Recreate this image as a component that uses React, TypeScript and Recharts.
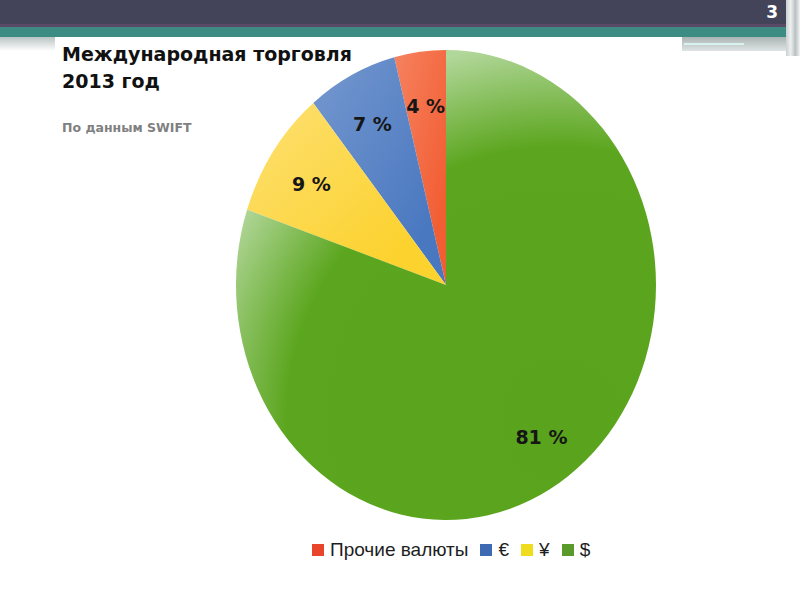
import { PieChart, Pie, Cell, Legend } from "recharts";

const currencies = ["Прочие валюты", "€", "¥", "$"];
const shares = [4, 7, 9, 81];
const shareLabels = ["4 %", "7 %", "9 %", "81 %"];

// light -> dark for each small slice gradient
const sliceLight = ["#f6825f", "#7598cf", "#fde072", "#b2d79a"];
const sliceDark = ["#f25e34", "#4a78c0", "#fcd22e", "#5aa41d"];
const legendColors = ["#e8452a", "#3e6ab3", "#f0dc1e", "#5a9a2a"];

const data = currencies.map((name, i) => ({ name, value: shares[i] }));

const ASPECT = 210 / 235; // the pie in the slide is a tall ellipse
const RAD = Math.PI / 180;

function EllipseSlice(props: any) {
  const { cx, cy, outerRadius, startAngle, endAngle, fill } = props;
  const ry = outerRadius;
  const rx = outerRadius * ASPECT;
  const x1 = cx + rx * Math.cos(-startAngle * RAD);
  const y1 = cy + ry * Math.sin(-startAngle * RAD);
  const x2 = cx + rx * Math.cos(-endAngle * RAD);
  const y2 = cy + ry * Math.sin(-endAngle * RAD);
  const large = Math.abs(endAngle - startAngle) > 180 ? 1 : 0;
  const sweep = startAngle > endAngle ? 1 : 0;
  const d = `M${cx},${cy} L${x1},${y1} A${rx},${ry} 0 ${large} ${sweep} ${x2},${y2} Z`;
  return <path d={d} fill={fill} stroke="none" />;
}

function renderLabel(props: any) {
  const { cx, cy, midAngle, outerRadius, index } = props;
  const k = 0.78;
  const x = cx + outerRadius * ASPECT * k * Math.cos(-midAngle * RAD);
  const y = cy + outerRadius * k * Math.sin(-midAngle * RAD) + 3;
  return (
    <text
      x={x}
      y={y}
      textAnchor="middle"
      dominantBaseline="central"
      fontFamily="DejaVu Sans"
      fontWeight="bold"
      fontSize={19}
      fill="#161616"
    >
      {shareLabels[index]}
    </text>
  );
}

function renderLegend() {
  return (
    <div
      style={{
        display: "flex",
        alignItems: "center",
        gap: 12,
        fontFamily: "Liberation Sans, Arial, sans-serif",
        fontSize: 19,
        color: "#1e1e1e",
        paddingLeft: 312,
      }}
    >
      {currencies.map((name, i) => (
        <div key={name} style={{ display: "flex", alignItems: "center" }}>
          <span
            style={{
              display: "inline-block",
              width: 12,
              height: 12,
              background: legendColors[i],
              marginRight: 6,
            }}
          />
          <span>{name}</span>
        </div>
      ))}
    </div>
  );
}

export default function App() {
  return (
    <div
      style={{
        position: "absolute",
        left: 0,
        top: 0,
        width: 800,
        height: 600,
        background: "#ffffff",
        overflow: "hidden",
      }}
    >
      {/* slide header */}
      <div style={{ position: "absolute", left: 0, top: 0, width: 800, height: 24, background: "#43435a" }} />
      <div style={{ position: "absolute", left: 0, top: 24, width: 800, height: 3, background: "#5a4a68" }} />
      <div style={{ position: "absolute", left: 0, top: 27, width: 800, height: 10, background: "#3d8c84" }} />
      <div
        style={{
          position: "absolute",
          left: 0,
          top: 37,
          width: 800,
          height: 14,
          background: "linear-gradient(#b9c4c2, #ffffff)",
        }}
      />
      <div style={{ position: "absolute", left: 682, top: 37, width: 105, height: 14, background: "linear-gradient(#aab5b4, #dfe3e3)" }} />
      <div style={{ position: "absolute", left: 684, top: 43, width: 60, height: 2, background: "#d8f2f2" }} />
      <div style={{ position: "absolute", left: 786, top: 0, width: 14, height: 56, background: "linear-gradient(90deg, #c9cfcf, #eef0f0, #b8c0c0, #f4f4f4)" }} />
      <div
        style={{
          position: "absolute",
          right: 22,
          top: 2,
          color: "#ffffff",
          fontFamily: "DejaVu Sans",
          fontWeight: "bold",
          fontSize: 17,
        }}
      >
        3
      </div>
      <div style={{ position: "absolute", left: 55, top: 37, width: 627, height: 500, background: "#ffffff" }} />

      <div
        style={{
          position: "absolute",
          left: 62,
          top: 41,
          fontFamily: "DejaVu Sans",
          fontWeight: "bold",
          fontSize: 19,
          lineHeight: "27px",
          color: "#111111",
        }}
      >
        Международная торговля
        <br />
        2013 год
      </div>
      <div
        style={{
          position: "absolute",
          left: 62,
          top: 120,
          fontFamily: "DejaVu Sans",
          fontWeight: "bold",
          fontSize: 12.5,
          color: "#808080",
        }}
      >
        По данным SWIFT
      </div>

      <div style={{ position: "absolute", left: 0, top: 0 }}>
        <PieChart width={800} height={600} margin={{ top: 0, right: 0, bottom: 0, left: 0 }}>
          <defs>
            {currencies.slice(0, 3).map((name, i) => (
              <linearGradient key={name} id={`slice${i}`} x1="0" y1="0" x2="0.8" y2="0.8">
                <stop offset="0%" stopColor={sliceLight[i]} />
                <stop offset="100%" stopColor={sliceDark[i]} />
              </linearGradient>
            ))}
            <radialGradient id="slice3" gradientUnits="userSpaceOnUse" cx={560} cy={420} r={380}>
              <stop offset="0%" stopColor={sliceDark[3]} />
              <stop offset="72%" stopColor="#5ca61f" />
              <stop offset="100%" stopColor={sliceLight[3]} />
            </radialGradient>
          </defs>
          <Pie
            data={data}
            dataKey="value"
            nameKey="name"
            cx={446}
            cy={285}
            outerRadius={235}
            startAngle={90}
            endAngle={450}
            stroke="none"
            label={renderLabel}
            labelLine={false}
            shape={EllipseSlice}
            activeShape={EllipseSlice}
            inactiveShape={EllipseSlice}
            isAnimationActive={false}
          >
            {data.map((d, i) => (
              <Cell key={d.name} fill={`url(#slice${i})`} />
            ))}
          </Pie>
          <Legend
            content={renderLegend}
            wrapperStyle={{ position: "absolute", left: 0, top: 539, width: 800 }}
          />
        </PieChart>
      </div>
    </div>
  );
}
